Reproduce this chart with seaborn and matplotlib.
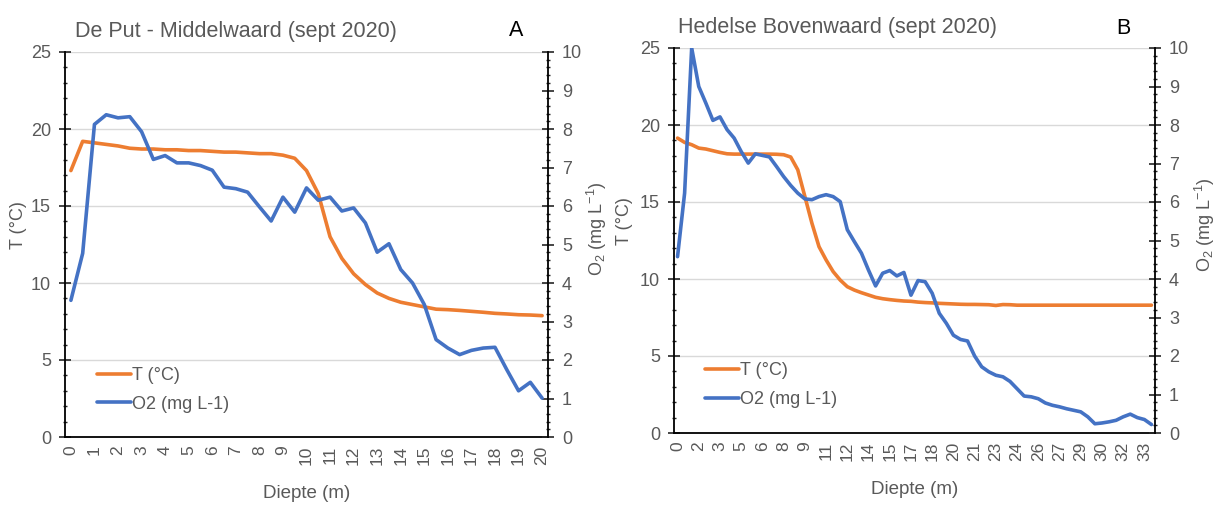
import numpy as np
import pandas as pd
import seaborn as sns
import matplotlib.pyplot as plt
from matplotlib.ticker import FixedLocator, MultipleLocator, FixedFormatter

# diepte (m), elke 0.5 m gemeten
depth_a = np.arange(0, 20.01, 0.5)
temp_a = [17.3, 19.2, 19.1, 19.0, 18.9, 18.75, 18.7, 18.7, 18.65, 18.65,
          18.6, 18.6, 18.55, 18.5, 18.5, 18.45, 18.4, 18.4, 18.3, 18.1,
          17.3, 15.8, 13.0, 11.6, 10.6, 9.9, 9.35, 9.0, 8.75, 8.6,
          8.45, 8.3, 8.27, 8.22, 8.16, 8.1, 8.03, 7.99, 7.94, 7.92, 7.88]
o2_a = [3.55, 4.77, 8.12, 8.37, 8.29, 8.32, 7.93, 7.21, 7.31, 7.12,
        7.12, 7.05, 6.93, 6.49, 6.45, 6.36, 5.98, 5.61, 6.23, 5.84,
        6.47, 6.15, 6.23, 5.87, 5.95, 5.56, 4.80, 5.02, 4.35, 4.0,
        3.44, 2.53, 2.31, 2.14, 2.25, 2.31, 2.33, 1.75, 1.20, 1.42, 1.01]

depth_b = np.arange(0, 33.51, 0.5)
temp_b = [19.15, 18.87, 18.72, 18.5, 18.44, 18.33, 18.22, 18.13, 18.11, 18.11,
          18.11, 18.11, 18.11, 18.11, 18.1, 18.07, 17.92, 17.09, 15.36, 13.62,
          12.1, 11.24, 10.48, 9.93, 9.5, 9.28, 9.11, 8.96, 8.81, 8.72,
          8.66, 8.61, 8.57, 8.55, 8.5, 8.47, 8.45, 8.42, 8.4, 8.38,
          8.36, 8.35, 8.35, 8.34, 8.33, 8.28, 8.34, 8.33, 8.3, 8.3,
          8.3, 8.3, 8.3, 8.3, 8.3, 8.3, 8.3, 8.3, 8.3, 8.3,
          8.3, 8.3, 8.3, 8.3, 8.3, 8.3, 8.3, 8.3]
o2_b = [4.58, 6.23, 10.0, 9.0, 8.57, 8.12, 8.21, 7.88, 7.66, 7.31,
        7.01, 7.25, 7.21, 7.17, 6.92, 6.66, 6.43, 6.23, 6.08, 6.06,
        6.14, 6.19, 6.14, 6.01, 5.28, 4.97, 4.67, 4.23, 3.82, 4.15,
        4.22, 4.08, 4.17, 3.58, 3.96, 3.93, 3.63, 3.11, 2.85, 2.54,
        2.43, 2.39, 2.0, 1.72, 1.59, 1.50, 1.46, 1.34, 1.15, 0.96,
        0.94, 0.89, 0.78, 0.72, 0.68, 0.63, 0.59, 0.55, 0.42, 0.24,
        0.26, 0.29, 0.33, 0.42, 0.49, 0.40, 0.35, 0.22]

ORANGE = "#ED7D31"
BLUE = "#4472C4"
GREY = "#595959"

sns.set_style("white")
plt.rcParams["font.family"] = ["Liberation Sans", "DejaVu Sans"]
plt.rcParams["mathtext.fontset"] = "custom"
plt.rcParams["mathtext.rm"] = "Liberation Sans"
plt.rcParams["mathtext.it"] = "Liberation Sans:italic"
plt.rcParams["mathtext.bf"] = "Liberation Sans:bold"

fig = plt.figure(figsize=(12.15, 5.05), dpi=100)


def panel(rect, depth, temp, o2, label_every, tick_every, title, letter,
          title_xy, letter_xy, leg_xy, t_lab_x, o_lab_x):
    ax = fig.add_axes(rect)
    # Excel categorie-as: punt in het midden van elke 0.5 m categorie
    df = pd.DataFrame({"pos": depth + 0.25, "T": temp, "O2": o2})
    n = len(df)
    sns.lineplot(data=df, x="pos", y="T", ax=ax, color=ORANGE, lw=2.6)
    ax2 = ax.twinx()
    sns.lineplot(data=df, x="pos", y="O2", ax=ax2, color=BLUE, lw=2.6)

    ax.set_xlim(0, n * 0.5)
    ax.set_ylim(0, 25)
    ax2.set_ylim(0, 10)

    # labels om de zoveel categorieen, streepjes om de zoveel
    lab_idx = list(range(0, n, label_every))
    ax.xaxis.set_major_locator(FixedLocator([depth[i] + 0.25 for i in lab_idx]))
    ax.xaxis.set_major_formatter(FixedFormatter(
        [str(int(np.floor(depth[i] + 0.5))) for i in lab_idx]))
    ax.xaxis.set_minor_locator(FixedLocator(np.arange(0, n * 0.5 + 0.01, tick_every * 0.5)))
    ax.tick_params(axis="x", which="major", length=0, labelrotation=90,
                   labelsize=12.5, labelcolor=GREY, pad=6)
    ax.tick_params(axis="x", which="minor", direction="inout", length=8,
                   width=1.2, color="black")

    ax.yaxis.set_major_locator(MultipleLocator(5))
    ax.yaxis.set_minor_locator(MultipleLocator(1))
    ax2.yaxis.set_major_locator(MultipleLocator(1))
    ax2.yaxis.set_minor_locator(MultipleLocator(0.2))
    for a in (ax, ax2):
        a.tick_params(axis="y", which="major", direction="inout", length=8,
                      width=1.2, labelsize=13, labelcolor=GREY, pad=6)
        a.tick_params(axis="y", which="minor", direction="inout", length=3.5,
                      width=1.0)
        for s in a.spines.values():
            s.set_visible(False)

    ax.spines["left"].set_visible(True)
    ax.spines["bottom"].set_visible(True)
    ax2.spines["right"].set_visible(True)
    for s in (ax.spines["left"], ax.spines["bottom"], ax2.spines["right"]):
        s.set_color("black")
        s.set_linewidth(1.3)

    ax.grid(axis="y", color="#D9D9D9", lw=1.0)
    ax.set_axisbelow(True)

    ax.set_xlabel("Diepte (m)", fontsize=13.5, color=GREY)
    ax.xaxis.set_label_coords(0.5, -0.125)
    ax.set_ylabel("T (°C)", fontsize=13, color=GREY)
    ax.yaxis.set_label_coords(t_lab_x, 0.55)
    ax2.set_ylabel("O$_2$ (mg L$^{-1}$)", fontsize=13, color=GREY)
    ax2.yaxis.set_label_coords(o_lab_x, 0.54)

    ax2.legend(handles=[ax.lines[0], ax2.lines[0]],
               labels=["T (°C)", "O2 (mg L-1)"],
               loc="upper left", bbox_to_anchor=leg_xy, frameon=False,
               fontsize=13, labelcolor=GREY, handlelength=1.9,
               handletextpad=0.05, labelspacing=0.65, borderpad=0,
               borderaxespad=0)

    fig.text(title_xy[0], title_xy[1], title, fontsize=15.5, color=GREY,
             ha="left", va="center")
    fig.text(letter_xy[0], letter_xy[1], letter, fontsize=15.5, color="black",
             ha="center", va="center")


panel([65 / 1215, 68 / 505, 483 / 1215, 385 / 505], depth_a, temp_a, o2_a,
      2, 2, "De Put - Middelwaard (sept 2020)", "A",
      (75 / 1215, 1 - 32 / 505), (516 / 1215, 1 - 30 / 505),
      (0.066, 0.182), -0.079, 1.077)
panel([674 / 1215, 72 / 505, 481 / 1215, 385 / 505], depth_b, temp_b, o2_b,
      3, 2, "Hedelse Bovenwaard (sept 2020)", "B",
      (678 / 1215, 1 - 27 / 505), (1123 / 1215, 1 - 28 / 505),
      (0.064, 0.184), -0.085, 1.079)

fig.savefig("out.png", dpi=100)
